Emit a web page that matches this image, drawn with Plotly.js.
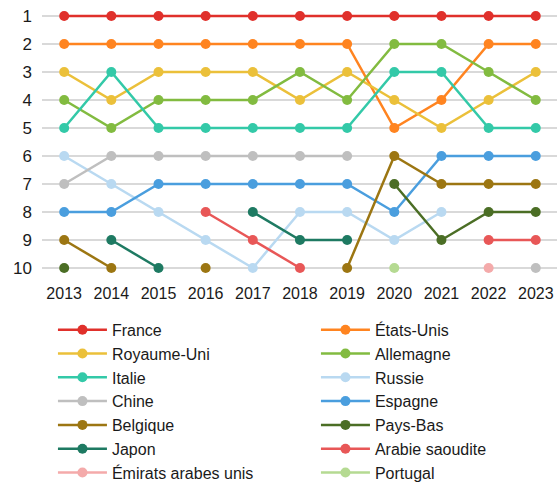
<!DOCTYPE html>
<html><head><meta charset="utf-8">
<script src="https://cdn.plot.ly/plotly-3.0.1.min.js"></script>
<style>html,body{margin:0;padding:0;background:#fff}#chart{width:557px;height:482px}</style>
</head><body><div id="chart"></div>
<script>
const years = [2013,2014,2015,2016,2017,2018,2019,2020,2021,2022,2023];
const countries = ["France","États-Unis","Royaume-Uni","Allemagne","Italie","Russie","Chine","Espagne","Belgique","Pays-Bas","Japon","Arabie saoudite","Émirats arabes unis","Portugal"];
const france      = [1,1,1,1,1,1,1,1,1,1,1];
const etatsUnis   = [2,2,2,2,2,2,2,5,4,2,2];
const royaumeUni  = [3,4,3,3,3,4,3,4,5,4,3];
const allemagne   = [4,5,4,4,4,3,4,2,2,3,4];
const italie      = [5,3,5,5,5,5,5,3,3,5,5];
const russie      = [6,7,8,9,10,8,8,9,8,null,null];
const chine       = [7,6,6,6,6,6,6,null,null,null,10];
const espagne     = [8,8,7,7,7,7,7,8,6,6,6];
const belgique    = [9,10,null,10,null,null,10,6,7,7,7];
const paysBas     = [10,null,null,null,null,null,null,7,9,8,8];
const japon       = [null,9,10,null,8,9,9,null,null,null,null];
const arabie      = [null,null,null,8,9,10,null,null,null,9,9];
const emirats     = [null,null,null,null,null,null,null,null,null,10,null];
const portugal    = [null,null,null,null,null,null,null,10,null,null,null];
const rankTicks   = [1,2,3,4,5,6,7,8,9,10];

const series = [france,etatsUnis,royaumeUni,allemagne,italie,russie,chine,espagne,belgique,paysBas,japon,arabie,emirats,portugal];
const colors = ["#E0302B","#FF8420","#EBC03A","#82BB40","#33C9A8","#B9D9F1","#BFBFBF","#4A9EDE","#9C7612","#4B6E25","#1E7A62","#E85757","#F4AAAA","#B5DA92"];

const traces = series.map((s,i)=>({
  x: years, y: s, name: countries[i], type:'scatter', mode:'lines+markers',
  line:{color:colors[i], width:2.5}, marker:{color:colors[i], size:10},
  hoverinfo:'skip'
}));

const font = 'Liberation Sans, Arial, sans-serif';
const layout = {
  width:557, height:482,
  margin:{l:42, r:0, t:2, b:200, autoexpand:false},
  paper_bgcolor:'#fff', plot_bgcolor:'#fff',
  font:{family:font, size:16, color:'#1a1a1a'},
  showlegend:true,
  xaxis:{range:[2012.53,2023.45], tickvals:years, ticktext:years.map(String), showgrid:false, zeroline:false, showline:false, ticks:'', tickfont:{size:16}, fixedrange:true},
  yaxis:{range:[10.5,0.5], tickvals:rankTicks, ticktext:rankTicks.map(String), showgrid:true, gridcolor:'#D9D9D9', gridwidth:1.5, zeroline:false, showline:false, ticks:'', tickfont:{size:17}, ticklabelstandoff:9, fixedrange:true},
  legend:{orientation:'h', x:-0.0001, xanchor:'left', y:-0.0707, yanchor:'top',
          borderwidth:11, bordercolor:'rgba(255,255,255,0)', bgcolor:'rgba(255,255,255,0)',
          entrywidth:199, entrywidthmode:'pixels', itemwidth:49, font:{size:16}, traceorder:'normal', tracegroupgap:0}
};
Plotly.newPlot('chart', traces, layout, {staticPlot:true, displayModeBar:false});
</script></body></html>
